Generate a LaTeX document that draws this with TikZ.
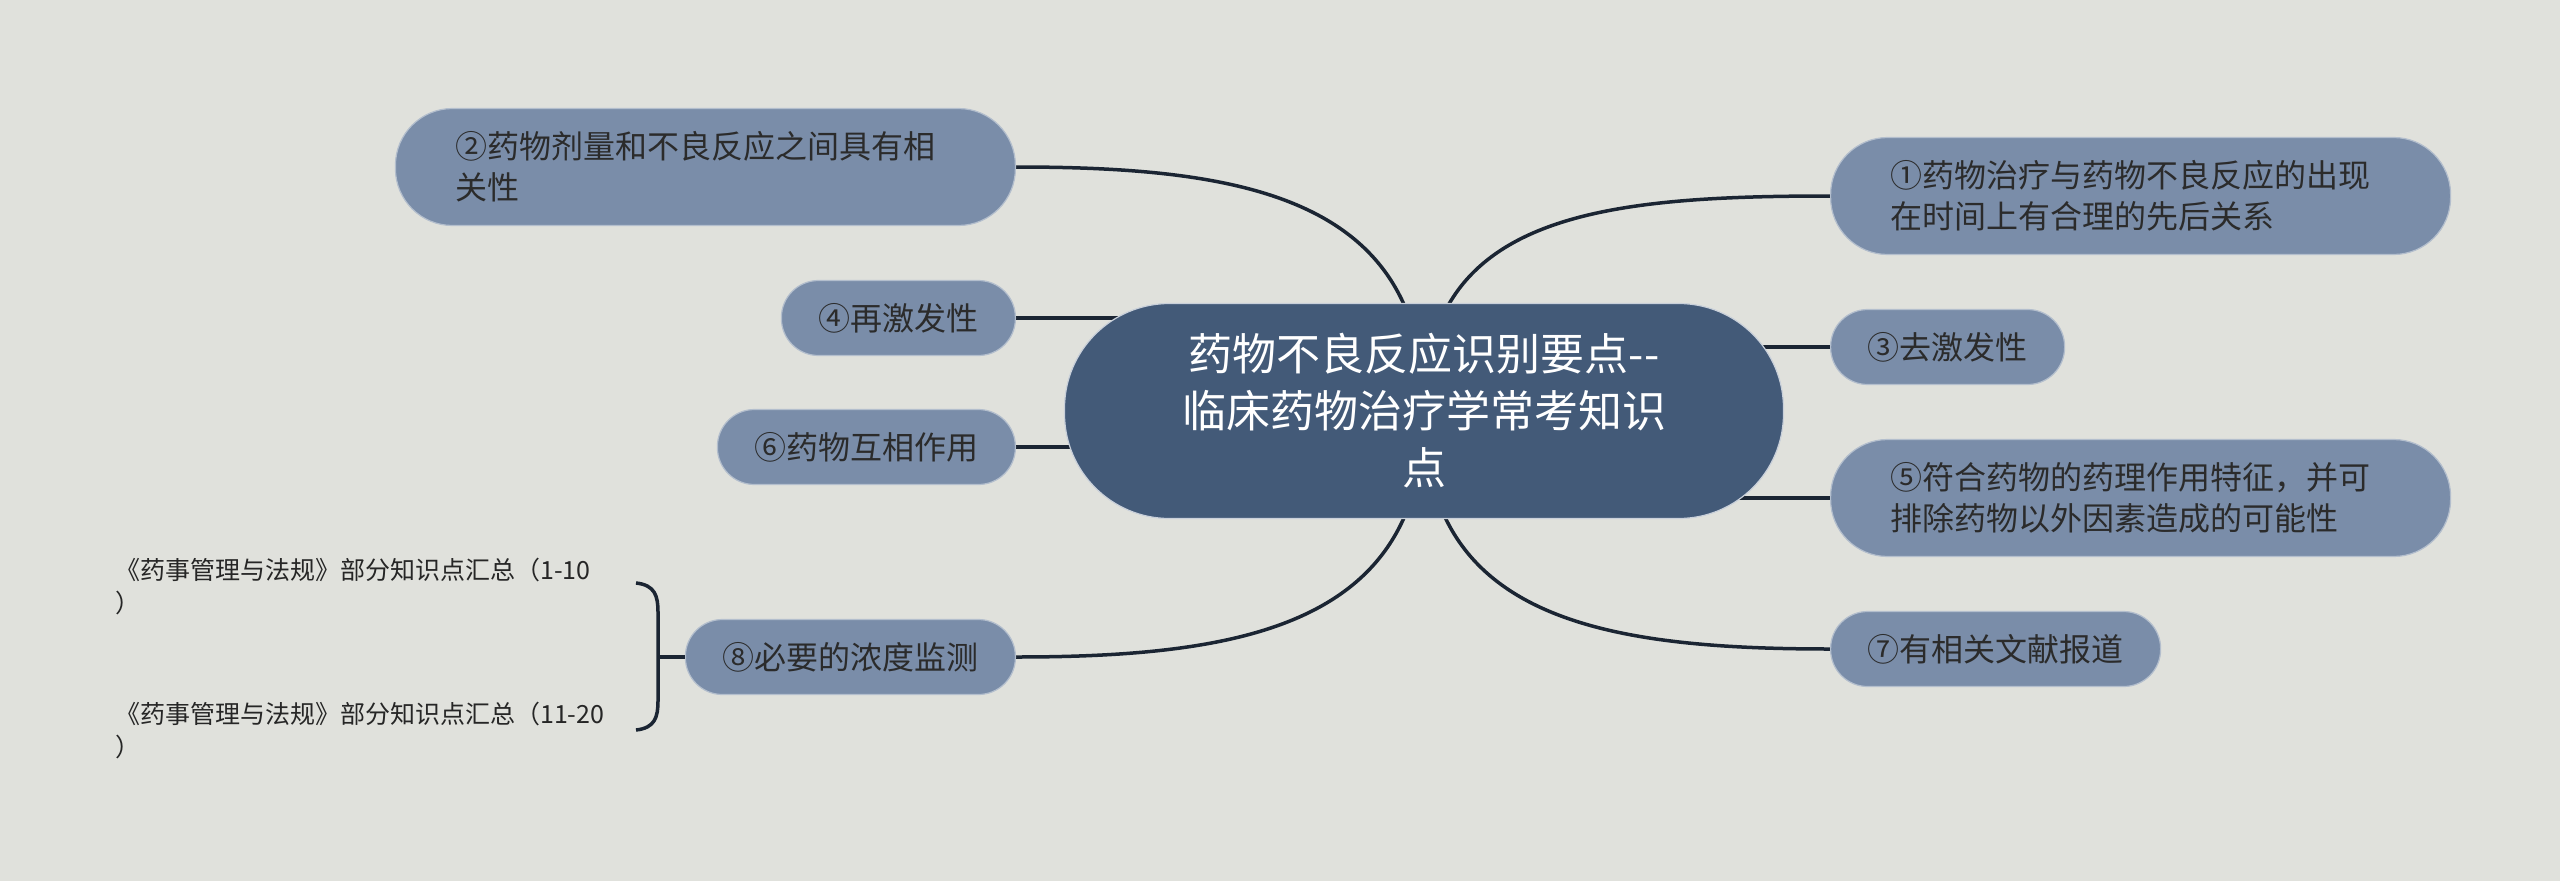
\documentclass[tikz,border=0pt]{standalone}
\usepackage{fontspec}
\setmainfont{Noto Sans CJK SC}
\usetikzlibrary{backgrounds}
\definecolor{canvasbg}{HTML}{E0E1DC}
\definecolor{hubfill}{HTML}{435A78}
\definecolor{hubedge}{HTML}{C9D0DA}
\definecolor{topicfill}{HTML}{7A8DA9}
\definecolor{topicedge}{HTML}{B3BECD}
\definecolor{topictext}{HTML}{2B2B2B}
\definecolor{linkcol}{HTML}{1B2533}
\pgfdeclarelayer{canvas}
\pgfsetlayers{canvas,background,main}
\newcommand{\hubfont}{\fontsize{44}{57}\selectfont}
\newcommand{\topicfont}{\fontsize{32}{41}\selectfont}
\newcommand{\leaffont}{\fontsize{25}{33}\selectfont}

\begin{document}
\begin{tikzpicture}[x=1pt,y=1pt]
    \begin{pgfonlayer}{canvas}
      \fill[canvasbg] (0,0) rectangle (2560,-881);
    \end{pgfonlayer}
    \useasboundingbox (0,0) rectangle (2560,-881);

    \begin{scope}[every node/.style={shape=rectangle,rounded corners=37pt,fill=topicfill,
        draw=topicedge,line width=1.2pt,text=topictext,font=\topicfont,
        inner xsep=37pt,inner ysep=0pt,minimum height=75pt}]
      \node[fill=hubfill,draw=hubedge,text=white,font=\hubfont,align=center,
            minimum width=719pt,minimum height=215pt,rounded corners=105pt]
           (H) at (1424,-411) {药物不良反应识别要点-{}-\\临床药物治疗学常考知识\\点};

      % left side
      \node[anchor=east,text width=500pt,align=left,inner xsep=60pt,
            minimum height=117pt,rounded corners=57pt]
           (N2) at (1016,-167) {②药物剂量和不良反应之间具有相\\关性};
      \node[anchor=east] (N4) at (1016,-318) {④再激发性};
      \node[anchor=east] (N6) at (1016,-447) {⑥药物互相作用};
      \node[anchor=east] (N8) at (1016,-657) {⑧必要的浓度监测};

      % right side
      \node[anchor=west,text width=500pt,align=left,inner xsep=60pt,
            minimum height=117pt,rounded corners=57pt]
           (N1) at (1830,-196) {①药物治疗与药物不良反应的出现\\在时间上有合理的先后关系};
      \node[anchor=west] (N3) at (1830,-347) {③去激发性};
      \node[anchor=west,text width=500pt,align=left,inner xsep=60pt,
            minimum height=117pt,rounded corners=57pt]
           (N5) at (1830,-498) {⑤符合药物的药理作用特征，并可\\排除药物以外因素造成的可能性};
      \node[anchor=west] (N7) at (1830,-649) {⑦有相关文献报道};
    \end{scope}

    % leaves of (8)
    \node[anchor=west,align=left,inner sep=0pt,font=\leaffont,text=black!85]
         (L1) at (115,-586) {《药事管理与法规》部分知识点汇总（1-10\\）};
    \node[anchor=west,align=left,inner sep=0pt,font=\leaffont,text=black!85]
         (L2) at (115,-730) {《药事管理与法规》部分知识点汇总（11-20\\）};
    \coordinate (bT) at (636,-583);
    \coordinate (bM) at (658,-657);
    \coordinate (bB) at (636,-730);

    \begin{scope}[on background layer,
        every edge/.style={draw=linkcol,line width=3.5pt}]
      \path (H.center) edge[out=90,in=0,out distance=211pt,in distance=234pt] (N2.east);
      \path (H.center) edge[out=90,in=180,out distance=195pt,in distance=234pt] (N1.west);
      \path (H.center) edge[out=-90,in=0,out distance=211pt,in distance=234pt] (N8.east);
      \path (H.center) edge[out=-90,in=180,out distance=205pt,in distance=234pt] (N7.west);
      \path (N4.east) edge (N4.east -| H.center);
      \path (N6.east) edge (N6.east -| H.center);
      \path (N3.west) edge (N3.west -| H.center);
      \path (N5.west) edge (N5.west -| H.center);
      %\path (N8.west) edge (bM);
    \end{scope}

    \draw[linkcol,line width=3.5pt] (bT) .. controls (655,-585) and (658,-596) .. (658,-612)
        -- (658,-701) .. controls (658,-717) and (655,-728) .. (bB);
    \draw[linkcol,line width=3.5pt] (bM) -- (N8.west);
\end{tikzpicture}
\end{document}
